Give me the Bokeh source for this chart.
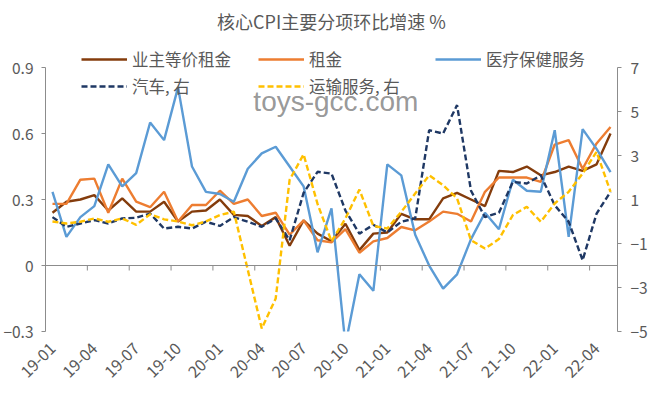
import math
from bokeh.plotting import figure
from bokeh.models import Range1d, LinearAxis, FixedTicker, Legend, LegendItem, Span, Label
from bokeh.embed import file_html
from bokeh.resources import INLINE

# ---------------- data ----------------
tick_labels = ["19-01", "19-04", "19-07", "19-10", "20-01", "20-04", "20-07",
               "20-10", "21-01", "21-04", "21-07", "21-10", "22-01", "22-04"]

# 业主等价租金 (left axis)
oer = [0.24, 0.29, 0.30, 0.32, 0.25, 0.305, 0.245, 0.245, 0.29, 0.20,
       0.245, 0.25, 0.30, 0.23, 0.225, 0.18, 0.22, 0.09, 0.205, 0.145,
       0.11, 0.19, 0.07, 0.145, 0.15, 0.235, 0.21, 0.21, 0.305, 0.33,
       0.30, 0.27, 0.43, 0.425, 0.45, 0.41, 0.425, 0.45, 0.43, 0.46, 0.60]
# 租金 (left axis)
rent = [0.28, 0.28, 0.39, 0.395, 0.24, 0.395, 0.29, 0.265, 0.335, 0.20,
        0.275, 0.275, 0.34, 0.28, 0.30, 0.225, 0.24, 0.14, 0.205, 0.115,
        0.105, 0.165, 0.058, 0.11, 0.125, 0.175, 0.16, 0.20, 0.245, 0.235,
        0.20, 0.335, 0.40, 0.40, 0.40, 0.38, 0.55, 0.57, 0.44, 0.555, 0.63]
# 医疗保健服务 (left axis)
medical = [0.335, 0.13, 0.22, 0.27, 0.46, 0.36, 0.42, 0.65, 0.57, 0.81,
           0.45, 0.335, 0.325, 0.29, 0.44, 0.51, 0.54, 0.45, 0.36, 0.06,
           0.26, -0.36, -0.04, -0.115, 0.46, 0.41, 0.14, 0.0, -0.105, -0.04,
           0.12, 0.24, 0.165, 0.39, 0.34, 0.335, 0.615, 0.13, 0.62, 0.53, 0.425]
# 汽车, 右 (right axis)
cars = [0.2, -0.24, -0.09, 0.06, -0.09, 0.14, 0.17, 0.36, -0.32, -0.24,
        -0.32, -0.01, -0.2, 0.2, -0.01, -0.24, 0.14, -0.85, 1.3, 2.26,
        2.18, 0.5, -0.55, -0.15, -0.5, -0.01, 0.14, 4.15, 4.0, 5.29,
        1.4, 0.2, 0.4, 1.8, 1.73, 2.1, 0.74, -0.01, -1.76, 0.36, 1.35]
# 运输服务, 右 (right axis)
transport = [0.0, -0.09, -0.01, 0.14, -0.01, 0.14, -0.15, 0.33, 0.1, 0.0,
             -0.17, 0.0, 0.29, 0.45, -2.2, -4.86, -3.5, 1.9, 3.05, 0.8,
             -0.9, 0.14, 1.45, -0.2, -0.32, 0.44, 1.27, 2.1, 1.65, 1.05,
             -0.85, -1.23, -0.8, 0.29, 0.67, -0.01, 0.82, 1.35, 2.18, 3.17, 1.35]

left_ticks = [-0.3, 0, 0.3, 0.6, 0.9]
right_ticks = [-5, -3, -1, 1, 3, 5, 7]

# ---------------- layout ----------------
FONT = "Noto Sans CJK SC"
TXT = "#595959"
AXC = "#8c8c8c"

n = len(oer)
x = list(range(n))
tick_pos = [3 * k for k in range(len(tick_labels))]

FRAME_H = 293
y_lo, y_top = left_ticks[0], 1.032
r_lo = right_ticks[0]
ratio = (right_ticks[-1] - right_ticks[0]) / (left_ticks[-1] - left_ticks[0])
r_top = r_lo + ratio * (y_top - y_lo)

p = figure(frame_width=572, frame_height=FRAME_H, output_backend="svg",
           toolbar_location=None,
           x_range=Range1d(-0.5, n - 0.5), y_range=Range1d(y_lo, y_top),
           min_border_left=42, min_border_right=30, min_border_top=33,
           min_border_bottom=0)
p.outline_line_color = None
p.xgrid.visible = False
p.ygrid.visible = False
p.background_fill_color = "white"

p.title.text = "核心CPI主要分项环比增速 %"
p.title.align = "center"
p.title.text_font = FONT
p.title.text_font_size = "18px"
p.title.text_font_style = "normal"
p.title.text_color = TXT

# bottom axis: labels only
xa = p.xaxis[0]
xa.ticker = FixedTicker(ticks=tick_pos)
xa.major_label_overrides = {t: lab for t, lab in zip(tick_pos, tick_labels)}
xa.major_label_orientation = math.pi / 4
xa.axis_line_color = None
xa.major_tick_line_color = None
xa.major_tick_out = 0
xa.major_tick_in = 0
xa.minor_tick_line_color = None
xa.major_label_text_font = FONT
xa.major_label_text_font_size = "16px"
xa.major_label_text_color = TXT
xa.major_label_standoff = 14

# left axis
ya = p.yaxis[0]
ya.ticker = FixedTicker(ticks=left_ticks)
ya.bounds = (left_ticks[0], left_ticks[-1])
ya.major_label_overrides = {0: "0"}
ya.axis_line_color = AXC
ya.major_tick_line_color = AXC
ya.major_tick_out = 4
ya.major_tick_in = 0
ya.minor_tick_line_color = None
ya.major_label_text_font = FONT
ya.major_label_text_font_size = "15.5px"
ya.major_label_text_color = TXT
ya.major_label_standoff = 8

# right axis
p.extra_y_ranges = {"right": Range1d(r_lo, r_top)}
ra = LinearAxis(y_range_name="right", ticker=FixedTicker(ticks=right_ticks),
                bounds=(right_ticks[0], right_ticks[-1]))
ra.axis_line_color = AXC
ra.major_tick_line_color = AXC
ra.major_tick_out = 4
ra.major_tick_in = 0
ra.minor_tick_line_color = None
ra.major_label_text_font = FONT
ra.major_label_text_font_size = "15.5px"
ra.major_label_text_color = TXT
ra.major_label_standoff = 9
p.add_layout(ra, "right")

# horizontal category axis line at zero with tick marks between categories
p.add_layout(Span(location=0, dimension="width", line_color=AXC, line_width=1))
px_per_unit = FRAME_H / (y_top - y_lo)
bx = [t - 0.5 for t in tick_pos]
p.segment(x0=bx, y0=[0] * len(bx), x1=bx, y1=[-5 / px_per_unit] * len(bx),
          line_color=AXC, line_width=1)

# series
lw = 2.4
r1 = p.line(x, oer, line_color="#843C0C", line_width=lw)
r2 = p.line(x, rent, line_color="#ED7D31", line_width=lw)
r3 = p.line(x, medical, line_color="#5B9BD5", line_width=lw)
r4 = p.line(x, cars, line_color="#1F3864", line_width=lw, line_dash="6 3",
            y_range_name="right")
r5 = p.line(x, transport, line_color="#FFC000", line_width=lw, line_dash="6 3",
            y_range_name="right")

# watermark
p.add_layout(Label(x=14.4, y=0.745, text="toys-gcc.com", text_font="Liberation Sans",
                   text_font_size="28px", text_color="#8c8c8c", text_alpha=0.9,
                   text_baseline="middle"))


def make_legend(items, loc):
    lg = Legend(items=items, orientation="horizontal", location=loc)
    lg.background_fill_alpha = 0
    lg.border_line_color = None
    lg.padding = 0
    lg.margin = 0
    lg.spacing = 0
    lg.glyph_width = 46
    lg.glyph_height = 20
    lg.label_height = 20
    lg.label_width = 126
    lg.label_standoff = 5
    lg.label_text_font = FONT
    lg.label_text_font_size = "16.5px"
    lg.label_text_color = TXT
    return lg


leg1 = make_legend([LegendItem(label="业主等价租金", renderers=[r1]),
                    LegendItem(label="租金", renderers=[r2]),
                    LegendItem(label="医疗保健服务", renderers=[r3])], (36, 260))
leg2 = make_legend([LegendItem(label="汽车, 右", renderers=[r4]),
                    LegendItem(label="运输服务, 右", renderers=[r5])], (36, 233))
p.add_layout(leg1)
p.add_layout(leg2)

open("out.html", "w").write(file_html(p, INLINE))
